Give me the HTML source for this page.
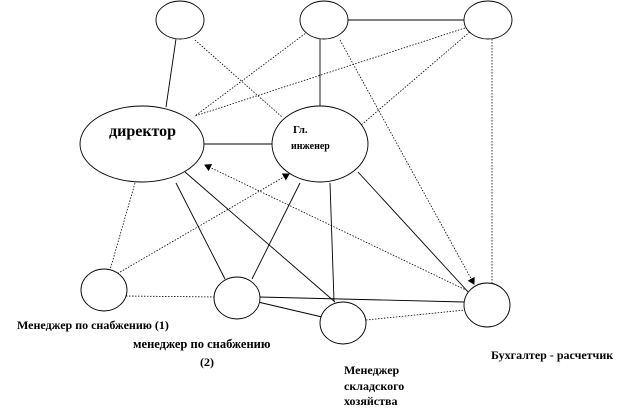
<!DOCTYPE html>
<html><head><meta charset="utf-8"><style>
html,body{margin:0;padding:0;background:#fff;}
svg{display:block;}
text{font-family:"Liberation Serif","Noto Serif CJK SC",serif;font-weight:bold;fill:#000;}
</style></head><body>
<svg width="638" height="418" viewBox="0 0 638 418" xmlns="http://www.w3.org/2000/svg">
<defs><marker id="a" markerWidth="8" markerHeight="8" refX="6" refY="4" orient="auto" markerUnits="userSpaceOnUse"><path d="M0,0 L7,4 L0,8 z" fill="#000"/></marker></defs>
<g stroke="#000" stroke-width="0.9" fill="none">
<line x1="176" y1="39" x2="166" y2="107"/>
<line x1="320" y1="39" x2="320" y2="106"/>
<line x1="348" y1="20" x2="464" y2="20"/>
<line x1="204" y1="144" x2="272" y2="144"/>
<line x1="176" y1="183" x2="225" y2="279"/>
<line x1="185" y1="172" x2="335" y2="302"/>
<line x1="300" y1="183" x2="252" y2="279"/>
<line x1="330" y1="183" x2="334" y2="301"/>
<line x1="358" y1="172" x2="470" y2="294"/>
<line x1="259" y1="297" x2="464" y2="302"/>
<line x1="258" y1="302" x2="322" y2="317"/>
</g>
<g stroke="#000" stroke-width="0.8" fill="none" stroke-dasharray="1.5 1.5">
<line x1="195" y1="40" x2="282" y2="117"/>
<line x1="310" y1="30" x2="195" y2="116"/>
<line x1="465" y1="28" x2="195" y2="116"/>
<line x1="472" y1="30" x2="360" y2="126"/>
<line x1="492" y1="39" x2="492" y2="283"/>
<line x1="340" y1="40" x2="474" y2="284" marker-end="url(#a)"/>
<line x1="470" y1="292" x2="205" y2="165" marker-end="url(#a)"/>
<line x1="115" y1="275" x2="289" y2="174" marker-end="url(#a)"/>
<line x1="135" y1="183" x2="110" y2="270"/>
<line x1="126" y1="296" x2="215" y2="297"/>
<line x1="366" y1="320" x2="465" y2="310"/>
</g>
<g stroke="#000" stroke-width="0.9" fill="#fff">
<ellipse cx="180" cy="20" rx="24" ry="19"/>
<ellipse cx="324" cy="20" rx="24" ry="19"/>
<ellipse cx="488" cy="20" rx="24" ry="19"/>
<ellipse cx="142" cy="144" rx="62" ry="38"/>
<ellipse cx="320" cy="144" rx="48" ry="38"/>
<ellipse cx="104" cy="290" rx="23" ry="21"/>
<ellipse cx="237" cy="298" rx="23" ry="21"/>
<ellipse cx="343" cy="323" rx="23" ry="21"/>
<ellipse cx="487" cy="305" rx="23" ry="22"/>
</g>
<text x="109" y="136" font-size="16">директор</text>
<text x="293" y="133" font-size="11">Гл.</text>
<text x="291" y="149" font-size="10">инженер</text>
<text x="17" y="329" font-size="12">Менеджер по снабжению (1)</text>
<text x="133" y="348" font-size="12.5">менеджер по снабжению</text>
<text x="200" y="366" font-size="12">(2)</text>
<text x="344" y="374" font-size="12">Менеджер</text>
<text x="344" y="390" font-size="12">складского</text>
<text x="344" y="405" font-size="12">хозяйства</text>
<text x="491" y="359" font-size="12">Бухгалтер  - расчетчик</text>
</svg>
</body></html>
